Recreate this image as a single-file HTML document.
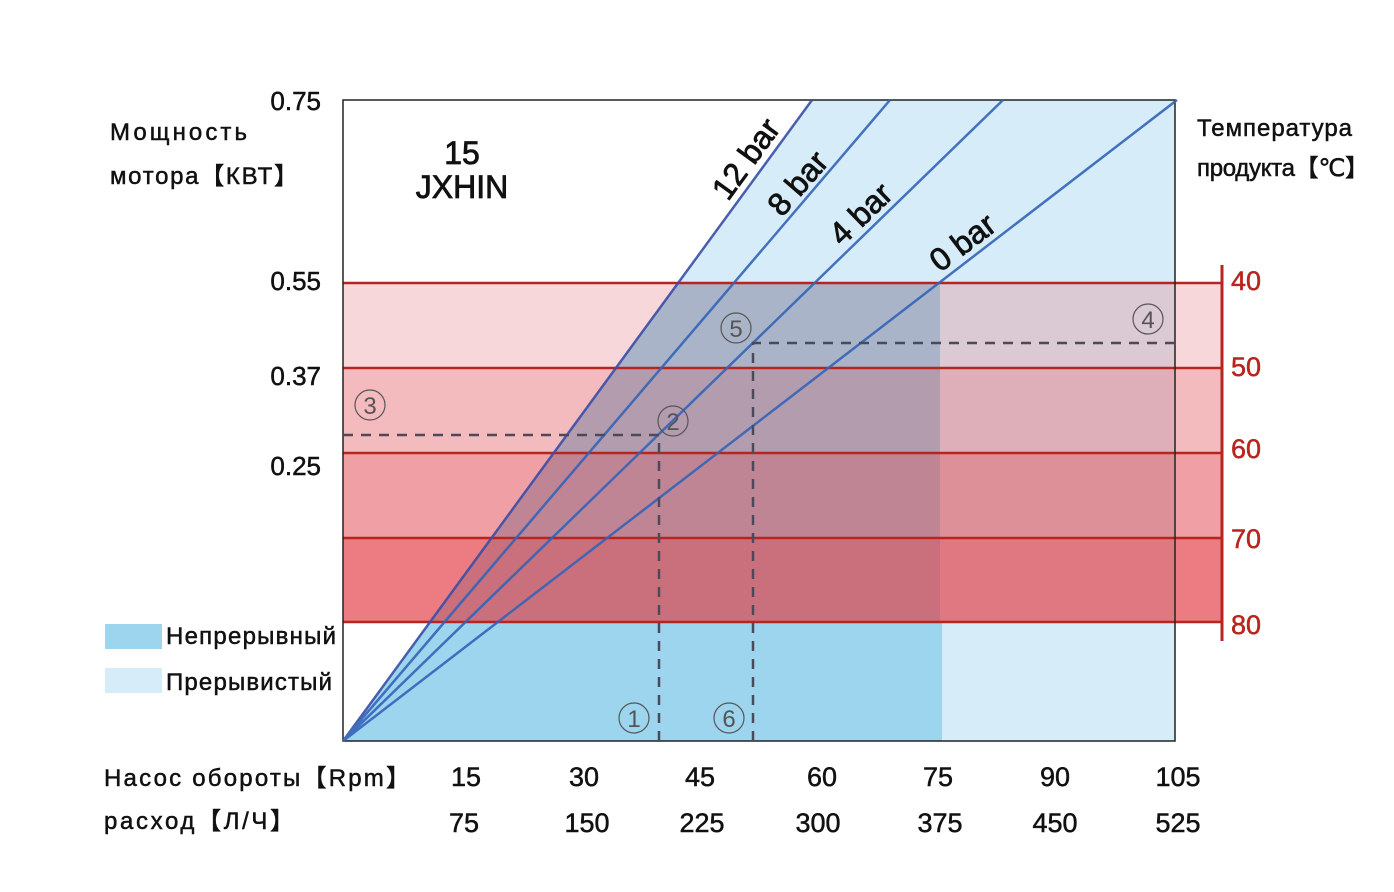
<!DOCTYPE html>
<html><head><meta charset="utf-8"><style>
body{margin:0;background:#fff;}
svg{display:block;font-family:"Liberation Sans","DejaVu Sans",sans-serif;}
</style></head><body>
<svg width="1394" height="892" viewBox="0 0 1394 892" xmlns="http://www.w3.org/2000/svg">
<polygon points="343,741 812,100 1175,100 1175,741" fill="#d6ecf8"/>
<polygon points="430,622 942,622 942,741 343,741" fill="#9dd4ee"/>
<rect x="343" y="283" width="879" height="85" fill="#f8d7da"/>
<rect x="343" y="368" width="879" height="85" fill="#f4bbbf"/>
<rect x="343" y="453" width="879" height="85" fill="#f0a0a5"/>
<rect x="343" y="538" width="879" height="84" fill="#ec7c81"/>
<rect x="940" y="283" width="235" height="85" fill="#dbc9d3"/>
<rect x="940" y="368" width="235" height="85" fill="#dfafb9"/>
<rect x="940" y="453" width="235" height="85" fill="#de9099"/>
<rect x="940" y="538" width="235" height="84" fill="#df7880"/>
<clipPath id="c"><polygon points="343,741 678,283 940,283 940,741"/></clipPath>
<g clip-path="url(#c)">
<rect x="343" y="283" width="600" height="85" fill="#a9b4c9"/>
<rect x="343" y="368" width="600" height="85" fill="#b39cae"/>
<rect x="343" y="453" width="600" height="85" fill="#c08594"/>
<rect x="343" y="538" width="600" height="84" fill="#ca6f7c"/>
</g>
<g stroke="#b8251f" stroke-width="2.5">
<line x1="343" y1="283" x2="1222" y2="283"/>
<line x1="343" y1="368" x2="1222" y2="368"/>
<line x1="343" y1="453" x2="1222" y2="453"/>
<line x1="343" y1="538" x2="1222" y2="538"/>
<line x1="343" y1="622" x2="1222" y2="622"/>
<line x1="1222" y1="265" x2="1222" y2="641" stroke-width="3"/>
</g>
<rect x="343" y="100" width="832" height="641" fill="none" stroke="#222" stroke-width="1.5"/>
<g stroke="#3464b8" stroke-width="2.5" opacity="0.9">
<line x1="343" y1="741" x2="812" y2="100" stroke="#3a4ea8"/>
<line x1="343" y1="741" x2="890" y2="100"/>
<line x1="343" y1="741" x2="1003" y2="100"/>
<line x1="343" y1="741" x2="1177" y2="100"/>
</g>
<g stroke="#4a4a5a" stroke-width="2.5" stroke-dasharray="10,8" fill="none">
<polyline points="343,435 659,435 659,741"/>
<polyline points="753,741 753,343 1175,343"/>
</g>
<g fill="none" stroke="#555" stroke-width="1.2">
<circle cx="634" cy="718" r="15"/><circle cx="673" cy="421" r="15"/><circle cx="370" cy="405" r="15"/>
<circle cx="1148" cy="319" r="15"/><circle cx="736" cy="328" r="15"/><circle cx="729" cy="718" r="15"/>
</g>
<g font-size="24" fill="#555" text-anchor="middle">
<text x="634" y="727">1</text><text x="673" y="430">2</text><text x="370" y="414">3</text>
<text x="1148" y="328">4</text><text x="736" y="337">5</text><text x="729" y="727">6</text>
</g>
<g font-size="32" fill="#111" stroke="#111" stroke-width="0.8">
<text transform="translate(728,202) rotate(-54)">12 bar</text>
<text transform="translate(782,218) rotate(-49)">8 bar</text>
<text transform="translate(842,247) rotate(-44)">4 bar</text>
<text transform="translate(940,273) rotate(-37)">0 bar</text>
<text x="462" y="164" text-anchor="middle">15</text>
<text x="462" y="198" text-anchor="middle">JXHIN</text>
</g>
<g font-size="26" fill="#111" stroke="#111" stroke-width="0.5" text-anchor="end">
<text x="321" y="110">0.75</text><text x="321" y="290">0.55</text>
<text x="321" y="385">0.37</text><text x="321" y="475">0.25</text>
</g>
<g font-size="24" fill="#111" stroke="#111" stroke-width="0.5">
<text x="110" y="140" textLength="137">Мощность</text>
<text x="110" y="184" textLength="188">мотора【КВТ】</text>
<text x="1197" y="136" textLength="155">Температура</text>
<text x="1197" y="176" textLength="172">продукта【℃】</text>
<text x="104" y="786" textLength="306">Насос  обороты【Rpm】</text>
<text x="104" y="829" textLength="190">расход【Л/Ч】</text>
<text x="166" y="644" textLength="170">Непрерывный</text>
<text x="166" y="690" textLength="166">Прерывистый</text>
</g>
<rect x="105" y="624" width="57" height="25" fill="#9dd4ee"/>
<rect x="105" y="668" width="57" height="25" fill="#d6ecf8"/>
<g font-size="27" fill="#b8251f" stroke="#b8251f" stroke-width="0.5">
<text x="1231" y="290">40</text><text x="1231" y="376">50</text>
<text x="1231" y="458">60</text><text x="1231" y="548">70</text><text x="1231" y="634">80</text>
</g>
<g font-size="27" fill="#111" stroke="#111" stroke-width="0.5" text-anchor="middle">
<text x="466" y="786">15</text><text x="584" y="786">30</text><text x="700" y="786">45</text>
<text x="822" y="786">60</text><text x="938" y="786">75</text><text x="1055" y="786">90</text><text x="1178" y="786">105</text>
<text x="464" y="832">75</text><text x="587" y="832">150</text><text x="702" y="832">225</text>
<text x="818" y="832">300</text><text x="940" y="832">375</text><text x="1055" y="832">450</text><text x="1178" y="832">525</text>
</g>
</svg>
</body></html>
